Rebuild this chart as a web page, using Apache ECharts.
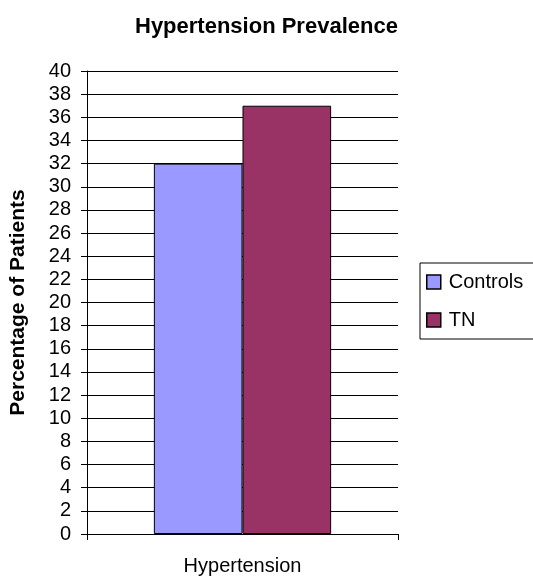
<!DOCTYPE html>
<html><head><meta charset="utf-8">
<script src="https://cdn.jsdelivr.net/npm/echarts@6/dist/echarts.min.js"></script>
<style>html,body{margin:0;padding:0;background:#fff}#c{width:533px;height:577px}</style>
</head><body><div id="c"></div>
<script>
const categories = ["Hypertension"];
const controls = [32];
const tn = [37];
const seriesNames = ["Controls", "TN"];
const chart = echarts.init(document.getElementById('c'));
const F = '"Liberation Sans", Arial, sans-serif';
chart.setOption({
  animation: false,
  title: {text: 'Hypertension Prevalence', left: 130, top: 11,
    textStyle: {fontFamily: F, fontSize: 22, fontWeight: 'bold', color: '#000'}},
  legend: {orient: 'vertical', left: 420, top: 263, itemWidth: 14, itemHeight: 14, itemGap: 18,
    padding: [9, 12, 9, 6], borderColor: '#000', borderWidth: 1,
    textStyle: {fontFamily: F, fontSize: 20, color: '#000', padding: [0, 0, 0, 3]},
    itemStyle: {borderColor: '#000', borderWidth: 1.5},
    data: seriesNames.map(n => ({name: n, icon: 'rect'}))},
  grid: {left: 86, right: 135, top: 71, bottom: 43, containLabel: false},
  xAxis: {type: 'category', data: categories,
    axisLine: {lineStyle: {color: '#000'}}, axisTick: {show: true, length: 6, lineStyle: {color: '#000'}},
    axisLabel: {fontFamily: F, fontSize: 20, color: '#000', margin: 22}},
  yAxis: {type: 'value', min: 0, max: 40, interval: 2, name: 'Percentage of Patients', nameLocation: 'middle', nameGap: 58,
    nameTextStyle: {fontFamily: F, fontSize: 21, fontWeight: 'bold', color: '#000'},
    axisLine: {show: true, lineStyle: {color: '#000'}}, axisTick: {show: true, length: 6, lineStyle: {color: '#000'}},
    axisLabel: {fontFamily: F, fontSize: 20, color: '#000', margin: 16},
    splitLine: {lineStyle: {color: '#000', width: 1}}},
  series: [
    {name: seriesNames[0], type: 'bar', data: controls, barGap: '0%', barCategoryGap: '43%',
      itemStyle: {color: '#9999FF', borderColor: '#000', borderWidth: 1}},
    {name: seriesNames[1], type: 'bar', data: tn,
      itemStyle: {color: '#993366', borderColor: '#000', borderWidth: 1}}
  ]
});
</script></body></html>
